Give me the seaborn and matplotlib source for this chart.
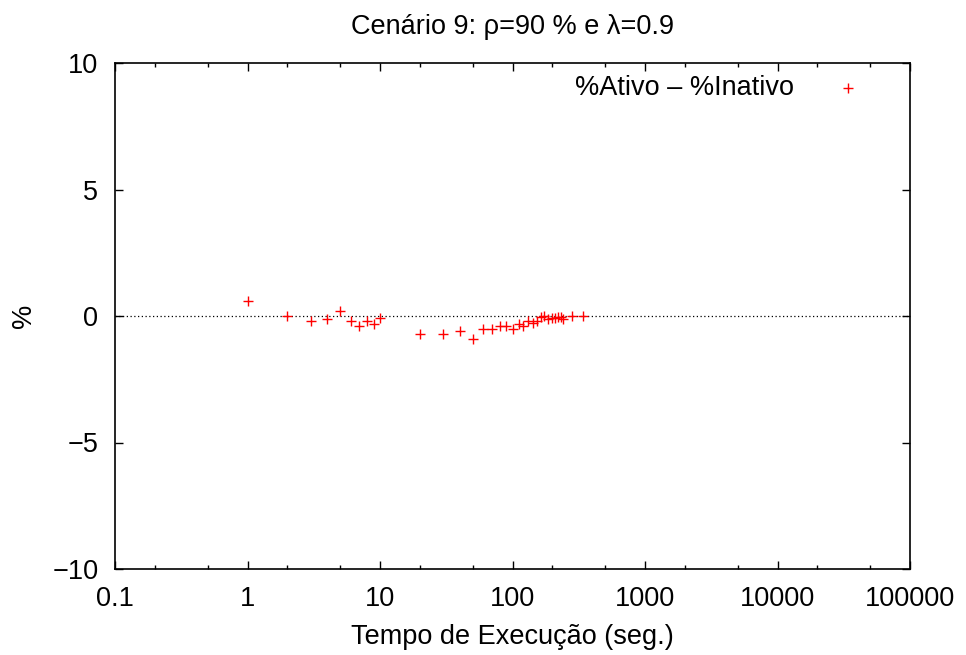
import numpy as np
import pandas as pd
import seaborn as sns
import matplotlib.pyplot as plt
from matplotlib.ticker import FixedLocator, FixedFormatter, NullFormatter

# tempo de execucao (seg.) e diferenca %Ativo - %Inativo
tempo = [1, 2, 3, 4, 5, 6, 7, 8, 9, 10,
         20, 30, 40, 50, 60, 70, 80, 90, 100,
         112, 121, 130, 142, 154, 165, 174, 186, 199, 210, 220, 232, 242, 283, 340]
diff = [0.6, 0.0, -0.21, -0.1, 0.2, -0.21, -0.41, -0.21, -0.32, -0.09,
        -0.70, -0.70, -0.61, -0.91, -0.51, -0.51, -0.38, -0.38, -0.51,
        -0.30, -0.38, -0.18, -0.29, -0.18, -0.05, 0.0, -0.12, -0.08, -0.08, -0.03, -0.03, -0.1, 0.0, 0.0]

xticks = [0.1, 1, 10, 100, 1000, 10000, 100000]
xlabels = ['0.1', '1', '10', '100', '1000', '10000', '100000']
yticks = [-10, -5, 0, 5, 10]

df = pd.DataFrame({'tempo': tempo, 'diff': diff})

sns.set_style('ticks')
plt.rcParams['font.family'] = ['Liberation Sans', 'DejaVu Sans']
plt.rcParams['xtick.direction'] = 'in'
plt.rcParams['ytick.direction'] = 'in'
plt.rcParams['text.color'] = 'black'
plt.rcParams['axes.labelcolor'] = 'black'
plt.rcParams['xtick.color'] = 'black'
plt.rcParams['ytick.color'] = 'black'

fs = 19.5
fig = plt.figure(figsize=(9.66, 6.55), dpi=100)
ax = fig.add_axes([115 / 966, 1 - 569 / 655, 795 / 966, 506 / 655])

ax.axhline(0, color='black', linestyle=(0, (1, 2)), linewidth=0.9, zorder=1)
sns.scatterplot(data=df, x='tempo', y='diff', marker='+', color='#ff0000',
                s=50, linewidth=1.0, ax=ax, label='%Ativo \u2013 %Inativo', zorder=3)

ax.set_xscale('log')
ax.set_xlim(0.1, 100000)
ax.set_ylim(-10, 10)
ax.xaxis.set_major_locator(FixedLocator(xticks))
ax.xaxis.set_major_formatter(FixedFormatter(xlabels))
minors = [m * 10.0 ** e for e in range(-1, 5) for m in (2, 5)]
ax.xaxis.set_minor_locator(FixedLocator(minors))
ax.xaxis.set_minor_formatter(NullFormatter())
ax.set_yticks(yticks)

ax.tick_params(which='both', top=True, right=True, labelsize=fs, width=1)
ax.tick_params(axis='x', pad=12)
ax.tick_params(axis='y', pad=12)
ax.tick_params(which='major', length=6)
ax.tick_params(which='minor', length=3)
for sp in ax.spines.values():
    sp.set_linewidth(1.2)
    sp.set_visible(True)
    sp.set_color('black')

ax.set_xlabel('Tempo de Execução (seg.)', fontsize=fs, labelpad=9)
ax.set_ylabel('%', fontsize=fs, labelpad=11)
ax.set_title('Cenário 9: ρ=90 % e λ=0.9', fontsize=fs, pad=21)

leg = ax.legend(loc='upper right', frameon=False, markerfirst=False, fontsize=fs,
                handletextpad=1.0, handlelength=2.0, borderpad=0, borderaxespad=0,
                bbox_to_anchor=(0.956, 0.976), markerscale=1.0)

fig.savefig('out.png', dpi=100)
